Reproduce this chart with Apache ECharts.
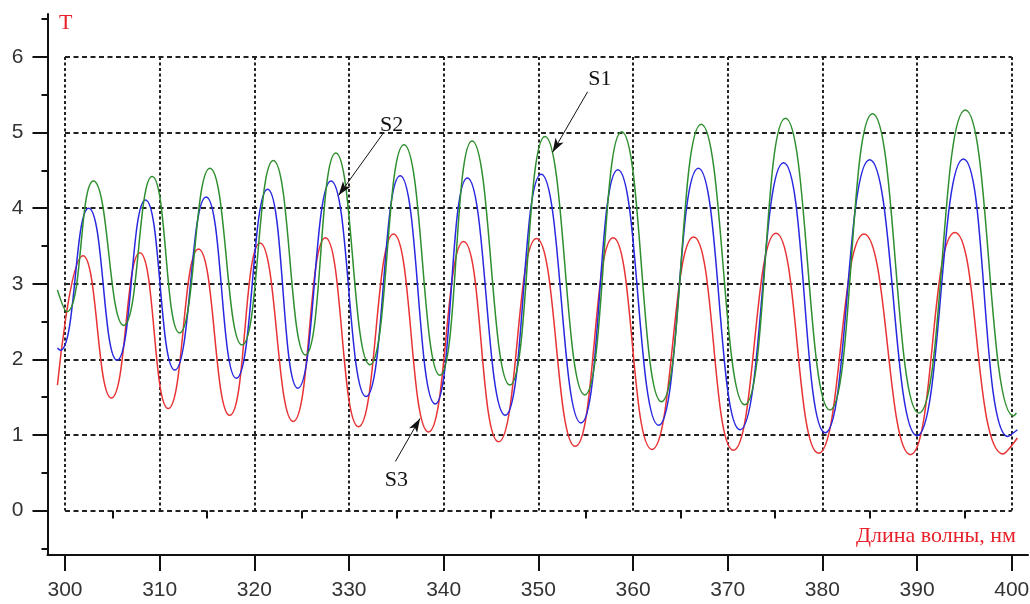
<!DOCTYPE html>
<html>
<head>
<meta charset="utf-8">
<title>T</title>
<script src="https://cdn.jsdelivr.net/npm/echarts@6/dist/echarts.min.js"></script>
<style>
  html, body { margin: 0; padding: 0; background: #fff; }
  #chart { width: 1030px; height: 604px; }
</style>
</head>
<body>
<div id="chart"></div>
<script>
'use strict';

// S1 - green curve (peaks and troughs)
var s1Wave = [299.2, 300.2, 303.0, 306.2, 309.2, 312.1, 315.3, 318.7, 322.0, 325.4, 328.6, 332.2, 335.8, 339.6,
  343.0, 347.0, 350.7, 354.9, 358.8, 363.0, 367.2, 371.8, 376.1, 380.8, 385.3, 390.2, 395.1, 400.2, 400.5];
var s1T = [2.92, 2.63, 4.36, 2.45, 4.42, 2.35, 4.53, 2.19, 4.63, 2.06, 4.73, 1.93, 4.84, 1.79,
  4.89, 1.66, 4.95, 1.53, 5.01, 1.44, 5.11, 1.40, 5.19, 1.33, 5.25, 1.29, 5.30, 1.25, 1.29];

// S2 - blue curve
var s2Wave = [299.2, 299.5, 302.5, 305.5, 308.5, 311.6, 314.9, 318.1, 321.4, 324.6, 328.1, 331.8, 335.4, 339.1,
  342.5, 346.5, 350.3, 354.5, 358.4, 362.7, 366.9, 371.3, 375.9, 380.3, 385.0, 390.0, 394.9, 399.6, 400.6];
var s2T = [2.15, 2.12, 4.00, 1.99, 4.11, 1.86, 4.15, 1.75, 4.25, 1.62, 4.36, 1.51, 4.43, 1.41,
  4.40, 1.26, 4.45, 1.16, 4.51, 1.13, 4.53, 1.07, 4.60, 1.03, 4.64, 0.99, 4.65, 0.98, 1.07];

// S3 - red curve
var s3Wave = [299.2, 301.9, 304.9, 307.9, 310.9, 314.1, 317.4, 320.6, 324.1, 327.5, 331.0, 334.7, 338.4,
  342.1, 345.8, 349.8, 353.9, 357.9, 362.0, 366.4, 370.6, 375.1, 379.6, 384.4, 389.3, 394.0, 399.1, 400.6];
var s3T = [1.66, 3.37, 1.49, 3.41, 1.35, 3.46, 1.26, 3.54, 1.18, 3.61, 1.11, 3.66, 1.04,
  3.56, 0.91, 3.60, 0.85, 3.61, 0.81, 3.62, 0.80, 3.67, 0.76, 3.66, 0.74, 3.68, 0.75, 0.96];

// ticks
var xTicks = [300, 310, 320, 330, 340, 350, 360, 370, 380, 390, 400];
var xMinorTicks = [305, 315, 325, 335, 345, 355, 365, 375, 385, 395];
var yTicks = [0, 1, 2, 3, 4, 5, 6];
var yMinorTicks = [-0.5, 0.5, 1.5, 2.5, 3.5, 4.5, 5.5, 6.5];

// callouts: [label, label point, line start, arrow tip]
var s1Callout = ['S1', [356.5, 5.70], [355.2, 5.54], [351.5, 4.74]];
var s2Callout = ['S2', [334.5, 5.10], [333.6, 4.99], [328.9, 4.17]];
var s3Callout = ['S3', [335.0, 0.40], [334.9, 0.65], [337.5, 1.22]];

var axisColor = '#111';
var labelFont = 'Liberation Sans';
var serifFont = 'Liberation Serif';

function pairs(xs, ys) {
  var out = [];
  for (var i = 0; i < xs.length; i++) {
    out.push([xs[i], ys[i]]);
  }
  return out;
}

function callout(c) {
  return {
    markLine: {
      silent: true,
      symbol: ['none', 'arrow'],
      symbolSize: [7, 14],
      label: { show: false },
      lineStyle: { color: '#111', width: 1, type: 'solid' },
      data: [[{ coord: c[2] }, { coord: c[3] }]]
    },
    markPoint: {
      silent: true,
      symbol: 'circle',
      symbolSize: 0,
      label: {
        show: true,
        position: 'inside',
        formatter: c[0],
        color: '#111',
        fontFamily: serifFont,
        fontSize: 22
      },
      data: [{ coord: c[1] }]
    }
  };
}

function curve(name, xs, ys, color, c) {
  var co = callout(c);
  return {
    name: name,
    type: 'line',
    xAxisIndex: 0,
    yAxisIndex: 0,
    data: pairs(xs, ys),
    smooth: 0.5,
    showSymbol: false,
    symbol: 'none',
    clip: false,
    silent: true,
    lineStyle: { color: color, width: 1.5 },
    itemStyle: { color: color },
    markLine: co.markLine,
    markPoint: co.markPoint
  };
}

var chart = echarts.init(document.getElementById('chart'));

var option = {
  animation: false,
  backgroundColor: '#fff',
  title: [
    {
      text: 'T', left: 59, top: 12, padding: 0,
      textStyle: { color: '#e8202a', fontFamily: serifFont, fontSize: 22, fontWeight: 'normal' }
    },
    {
      text: 'Длина волны, нм', right: 14, top: 525, padding: 0,
      textStyle: { color: '#e8202a', fontFamily: serifFont, fontSize: 22, fontWeight: 'normal' }
    }
  ],
  grid: [
    // outer frame with the axes
    { left: 47.5, right: 2, top: 14, bottom: 49, containLabel: false, outerBoundsMode: 'none' },
    // dashed box 300..400 x 0..6
    { left: 65, right: 18.3, top: 57, bottom: 93.4, containLabel: false, outerBoundsMode: 'none' }
  ],
  xAxis: [
    {
      type: 'value', gridIndex: 0, position: 'bottom', min: 298.15, max: 401.72,
      axisLine: { show: true, onZero: false, lineStyle: { color: axisColor, width: 2 } },
      axisTick: { show: true, customValues: xTicks, length: 16, lineStyle: { color: axisColor, width: 2 } },
      axisLabel: { show: true, customValues: xTicks, margin: 25, color: '#333', fontFamily: labelFont, fontSize: 21 },
      splitLine: { show: false }
    },
    {
      type: 'value', gridIndex: 0, position: 'bottom', min: 298.15, max: 401.72,
      axisLine: { show: false },
      axisTick: { show: true, customValues: xMinorTicks, length: 8, lineStyle: { color: axisColor, width: 2 } },
      axisLabel: { show: false },
      splitLine: { show: false }
    },
    {
      type: 'value', gridIndex: 1, min: 300, max: 400, interval: 10,
      axisLine: { show: false }, axisTick: { show: false }, axisLabel: { show: false },
      splitLine: { show: true, showMinLine: true, showMaxLine: true, lineStyle: { color: '#222', width: 2, type: [3, 2.5] } }
    }
  ],
  yAxis: [
    {
      type: 'value', gridIndex: 0, position: 'left', min: -0.587, max: 6.569,
      axisLine: { show: true, onZero: false, lineStyle: { color: axisColor, width: 2 } },
      axisTick: { show: true, customValues: yTicks, length: 15, lineStyle: { color: axisColor, width: 2 } },
      axisLabel: { show: true, customValues: yTicks, margin: 24, color: '#333', fontFamily: labelFont, fontSize: 21 },
      splitLine: { show: false }
    },
    {
      type: 'value', gridIndex: 0, position: 'left', min: -0.587, max: 6.569,
      axisLine: { show: false },
      axisTick: { show: true, customValues: yMinorTicks, length: 6, lineStyle: { color: axisColor, width: 2 } },
      axisLabel: { show: false },
      splitLine: { show: false }
    },
    {
      type: 'value', gridIndex: 1, min: 0, max: 6, interval: 1,
      axisLine: { show: false }, axisTick: { show: false }, axisLabel: { show: false },
      splitLine: { show: true, showMinLine: true, showMaxLine: true, lineStyle: { color: '#222', width: 2, type: [5, 3.5] } }
    }
  ],
  series: [
    curve('S3', s3Wave, s3T, '#e83234', s3Callout),
    curve('S2', s2Wave, s2T, '#2828e0', s2Callout),
    curve('S1', s1Wave, s1T, '#2f8f2f', s1Callout)
  ]
};

chart.setOption(option);
</script>
</body>
</html>
